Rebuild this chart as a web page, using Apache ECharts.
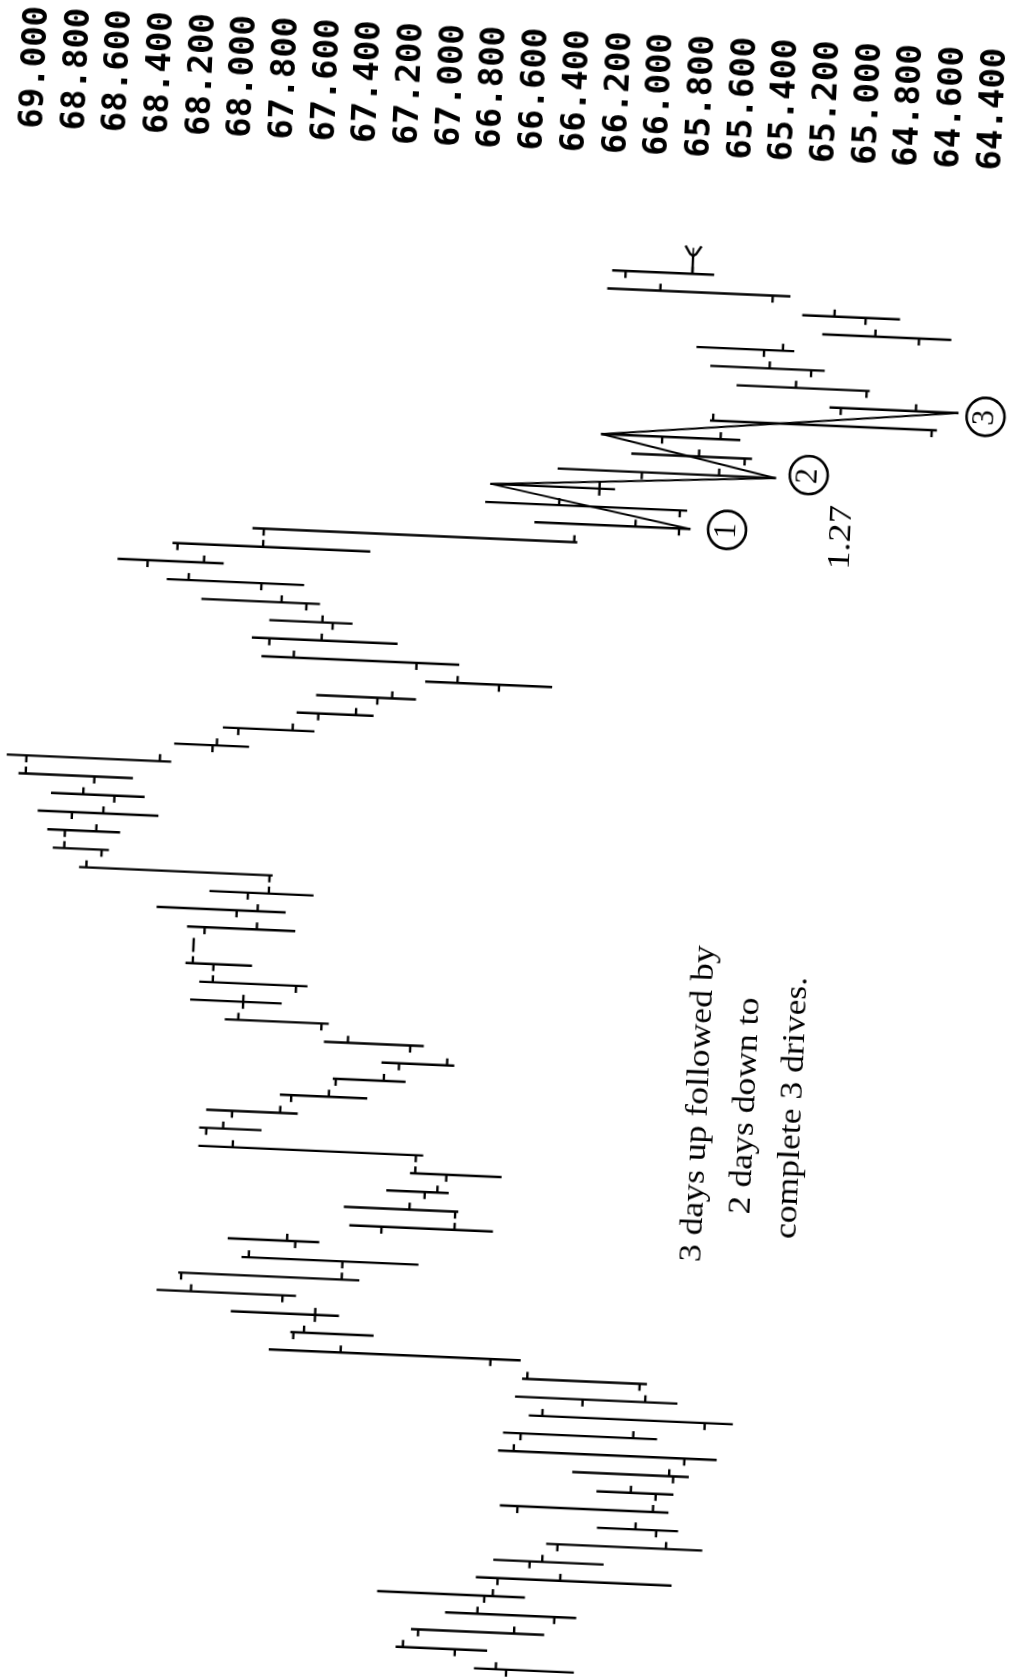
<!DOCTYPE html>
<html><head><meta charset="utf-8">
<script src="https://cdn.jsdelivr.net/npm/echarts@6/dist/echarts.min.js"></script>
<style>
html,body{margin:0;padding:0;background:#fff;overflow:hidden;}
#main{width:1023px;height:1677px;transform:rotate(2.5deg);transform-origin:500px 70px;background:#fff;}
</style></head>
<body><div id="main"></div>
<script>
// Price axis (tick labels 69.000 ... 64.400, step 0.200)
const priceMin = 64.4, priceMax = 69.0, priceStep = 0.2;

// Daily OHLC bars, oldest first (index = trading day)
const open = [66.41,66.66,66.84,66.19,66.53,66.47,66.32,66.19,65.72,66.39,
65.73,65.65,65.60,66.39,65.51,66.10,65.83,66.55,67.50,67.40,
67.56,68.05,67.28,67.51,67.10,66.75,66.90,66.80,66.95,67.96,
67.84,67.56,67.35,67.05,67.00,67.43,67.81,67.56,67.96,68.06,
68.01,67.86,67.81,67.71,68.52,68.70,68.67,68.47,68.57,68.90,
68.01,67.89,67.51,67.23,66.65,67.05,67.76,67.46,67.59,67.81,
68.36,68.22,67.81,65.82,65.82,66.21,66.01,65.52,65.92,64.63,
65.07,64.95,65.22,65.45,64.71,64.97,65.42,66.13];
const high = [66.56,66.94,66.87,66.71,67.04,66.57,66.49,66.24,66.00,66.47,
66.01,66.13,66.49,66.47,66.35,66.42,66.39,67.61,67.51,67.80,
68.16,68.06,67.76,67.83,67.25,67.28,67.08,66.97,67.99,67.99,
67.96,67.61,67.36,67.13,67.41,67.89,68.06,68.02,68.09,68.06,
68.09,68.24,67.99,68.62,68.75,68.78,68.83,68.77,68.93,68.99,
68.19,67.96,67.61,67.52,67.00,67.79,67.84,67.76,68.09,68.26,
68.50,68.24,67.86,66.51,66.75,66.73,66.41,66.06,66.21,65.69,
65.12,65.57,65.70,65.77,65.17,65.27,66.21,66.19];
const low = [66.09,66.51,66.24,66.09,66.34,65.64,65.97,65.50,65.62,65.67,
65.65,65.58,65.45,65.74,65.38,65.65,65.80,66.41,67.12,67.29,
67.50,67.20,66.92,67.40,66.57,66.74,66.79,66.54,66.92,67.70,
67.53,67.20,67.02,66.79,66.94,67.40,67.63,67.51,67.78,68.06,
67.58,67.63,67.50,67.70,68.49,68.44,68.26,68.33,68.39,68.21,
67.84,67.53,67.25,67.05,66.40,66.85,67.15,67.37,67.53,67.61,
68.00,67.30,66.31,65.77,65.79,66.14,65.37,65.49,65.55,64.61,
64.51,64.94,65.16,65.31,64.56,64.81,65.34,65.71];
const close = [66.46,66.91,66.38,66.56,66.49,66.17,66.26,65.67,65.82,65.74,
65.85,65.67,66.42,65.85,66.29,65.80,66.37,67.27,67.45,67.40,
68.00,67.28,67.73,67.55,66.75,66.97,66.84,66.95,67.83,67.88,
67.61,67.38,67.12,66.82,67.30,67.83,67.81,67.96,68.06,68.06,
67.76,67.76,67.71,68.59,68.70,68.55,68.52,68.62,68.90,68.26,
67.99,67.63,67.33,67.16,66.85,67.64,67.51,67.51,67.71,68.16,
68.09,67.81,66.32,66.03,66.40,66.21,65.64,65.74,65.64,65.68,
64.71,65.29,65.42,65.36,64.92,65.12,65.96,65.81];

// Three-drives zigzag: day index and which extreme it connects
const driveDays  = [63, 65, 66, 68, 70];
const driveKinds = ['low','high','low','high','low'];

// Annotations (placed in price / day units)
const driveLabels = ['1','2','3'];
const driveLabelPrice = [65.59, 65.21, 64.375];
const driveLabelDay   = [63.04, 66.24, 69.86];
const ratioText = '1.27';
const noteText = '3 days up followed by\n2 days down to\ncomplete 3 drives.';
</script>
<script>
const chart = echarts.init(document.getElementById('main'), null, {renderer:'canvas'});
const ohlc = open.map((o,i)=>[i, o, high[i], low[i], close[i]]);
const zig = driveDays.map((d,k)=>[driveKinds[k]==='low'?low[d]:high[d], d]);
const circles = driveLabels.map((t,k)=>[driveLabelPrice[k], driveLabelDay[k], t]);
const INK = '#000';
const serif = '"Liberation Serif", "DejaVu Serif", serif';

const option = {
  animation:false,
  backgroundColor:'#fff',
  grid:{left:36, right:28, top:156, bottom:0, outerBoundsMode:'none'},
  xAxis:{
    type:'value', min:priceMin, max:priceMax, interval:priceStep,
    inverse:true, position:'top',
    axisLine:{show:false}, axisTick:{show:false}, splitLine:{show:false},
    axisLabel:{rotate:90, margin:7, color:INK, fontFamily:'"DejaVu Sans Mono", monospace',
      fontSize:34, fontWeight:'bold', showMinLabel:true, showMaxLabel:true,
      formatter:v=>v.toFixed(3)}
  },
  yAxis:{type:'value', min:-0.5, max:83, show:false},
  series:[
    {
      type:'custom', name:'bars', clip:false,
      encode:{x:[1,2,3,4], y:0},
      data:ohlc,
      renderItem:function(params, api){
        const d = api.value(0);
        const ph = api.coord([api.value(2), d]);
        const pl = api.coord([api.value(3), d]);
        const po = api.coord([api.value(1), d]);
        const pc = api.coord([api.value(4), d]);
        const st = {stroke:INK, lineWidth:2.4};
        const t = 7;
        return {type:'group', children:[
          {type:'line', shape:{x1:ph[0]-1, y1:ph[1], x2:pl[0]+1, y2:pl[1]}, style:st},
          {type:'line', shape:{x1:po[0], y1:po[1], x2:po[0], y2:po[1]+t}, style:st},
          {type:'line', shape:{x1:pc[0], y1:pc[1], x2:pc[0], y2:pc[1]-t}, style:st}
        ]};
      }
    },
    {
      type:'line', name:'drives', data:zig, symbol:'none',
      lineStyle:{color:INK, width:2}, z:3
    },
    {
      type:'custom', name:'driveMarks', clip:false, z:4,
      data:circles,
      renderItem:function(params, api){
        const p = api.coord([api.value(0), api.value(1)]);
        return {type:'group', children:[
          {type:'circle', shape:{cx:p[0], cy:p[1], r:19}, style:{fill:'#fff', stroke:INK, lineWidth:2.6}},
          {type:'text', x:p[0], y:p[1]+1, rotation:Math.PI/2,
            style:{text:circles[params.dataIndex][2], fontFamily:serif, fontSize:31,
              fill:INK, align:'center', verticalAlign:'middle'}}
        ]};
      }
    },
    {
      type:'custom', name:'ratio', clip:false, z:4,
      data:[[65.04, 62.9]],
      renderItem:function(params, api){
        const p = api.coord([api.value(0), api.value(1)]);
        return {type:'text', x:p[0], y:p[1], rotation:Math.PI/2, scaleX:1.15,
          style:{text:ratioText, fontFamily:serif, fontSize:32, fill:INK, align:'center', verticalAlign:'middle'}};
      }
    },
    {
      type:'custom', name:'note', clip:false, z:4,
      data:[[65.38, 31.5]],
      renderItem:function(params, api){
        const p = api.coord([api.value(0), api.value(1)]);
        return {type:'text', x:p[0], y:p[1], rotation:Math.PI/2, scaleX:1.15,
          style:{text:noteText, fontFamily:serif, fontSize:31, lineHeight:47, fill:INK, align:'center', verticalAlign:'middle'}};
      }
    },
    {
      type:'custom', name:'lastMark', clip:false, z:4,
      data:[[close[close.length-1], close.length-1]],
      renderItem:function(params, api){
        const p = api.coord([api.value(0), api.value(1)]);
        const st = {stroke:INK, lineWidth:2.4, fill:'none'};
        return {type:'group', children:[
          {type:'line', shape:{x1:p[0], y1:p[1], x2:p[0], y2:p[1]-18}, style:st},
          {type:'polyline', shape:{points:[[p[0]-8,p[1]-28],[p[0]-3,p[1]-20],[p[0],p[1]-18],[p[0]+3,p[1]-20],[p[0]+8,p[1]-28]]}, style:st},
          {type:'line', shape:{x1:p[0], y1:p[1]-18, x2:p[0], y2:p[1]-26}, style:{stroke:INK, lineWidth:1.5}}
        ]};
      }
    }
  ]
};
chart.setOption(option);
</script>
</body></html>
